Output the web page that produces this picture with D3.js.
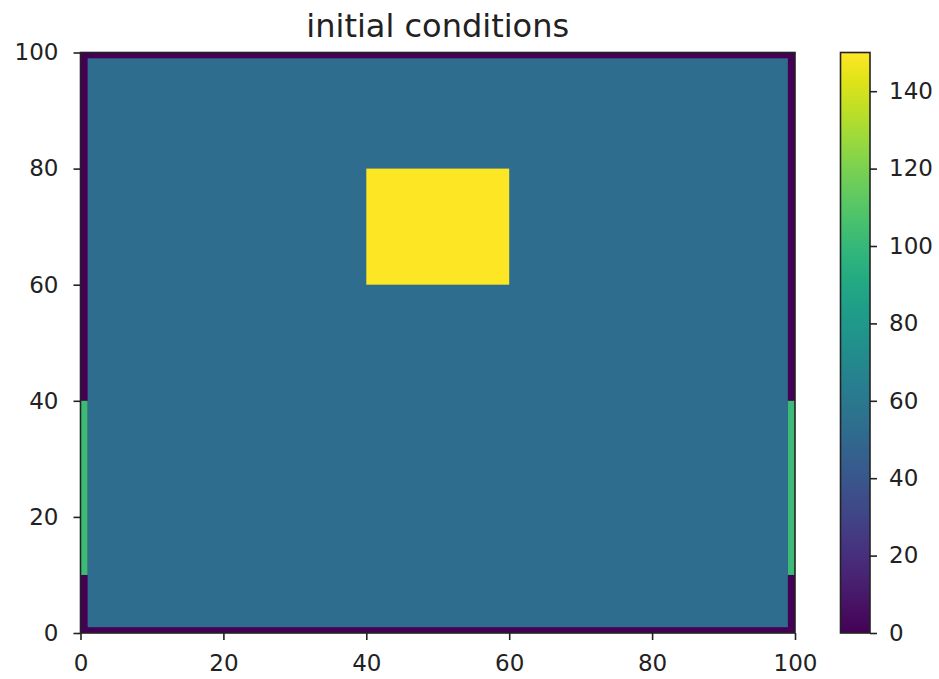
<!DOCTYPE html>
<html>
<head>
<meta charset="utf-8">
<style>
  body { margin: 0; background: #fff; }
  text { font-family: "DejaVu Sans", sans-serif; fill: #222; }
</style>
</head>
<body>
<div id="chart-area"></div>

<script src="https://cdn.jsdelivr.net/npm/d3@7"></script>
<script>
    // regions of the grid (data units), drawn in this order
    const regionName  = ["boundary", "interior", "left inflow", "right inflow", "hot block"];
    const regionX0    = [0,   1,  0, 99, 40];
    const regionX1    = [100, 99, 1, 100, 60];
    const regionY0    = [0,   1, 10, 10, 60];
    const regionY1    = [100, 99, 40, 40, 80];
    const regionValue = [0,  53, 102, 102, 150];

    const xTicks = [0, 20, 40, 60, 80, 100];
    const yTicks = [0, 20, 40, 60, 80, 100];
    const colorTicks = [0, 20, 40, 60, 80, 100, 120, 140];
    const colorDomain = [0, 150];

    const width = 939;
    const height = 679;
    const fontSize = 23;

    const svg = d3.select("#chart-area")
        .append("svg")
            .attr("width", width)
            .attr("height", height);

    const x = d3.scaleLinear().domain([0, 100]).range([80.5, 795]);
    const y = d3.scaleLinear().domain([0, 100]).range([633, 52.5]);
    const color = d3.scaleSequential(d3.interpolateViridis).domain(colorDomain);

    const regions = regionName.map((name, i) => ({
        name,
        x0: regionX0[i], x1: regionX1[i],
        y0: regionY0[i], y1: regionY1[i],
        value: regionValue[i]
    }));

    // heat map
    svg.append("g")
        .selectAll("rect")
        .data(regions)
        .join("rect")
            .attr("x", d => x(d.x0))
            .attr("y", d => y(d.y1))
            .attr("width", d => x(d.x1) - x(d.x0))
            .attr("height", d => y(d.y0) - y(d.y1))
            .attr("fill", d => color(d.value));

    // axes
    const xAxis = svg.append("g")
        .attr("transform", `translate(0, ${y(0)})`)
        .call(d3.axisBottom(x).tickValues(xTicks).tickSize(7).tickPadding(15));
    const yAxis = svg.append("g")
        .attr("transform", `translate(${x(0)}, 0)`)
        .call(d3.axisLeft(y).tickValues(yTicks).tickSize(7).tickPadding(15));

    [xAxis, yAxis].forEach(g => {
        g.select(".domain").remove();
        g.selectAll("line").attr("stroke", "#222").attr("stroke-width", 1.6);
        g.selectAll("text").attr("font-size", fontSize).attr("fill", "#262626")
            .style("font-family", "'DejaVu Sans', sans-serif");
    });

    // frame of the axes
    svg.append("rect")
        .attr("x", x(0))
        .attr("y", y(100))
        .attr("width", x(100) - x(0))
        .attr("height", y(0) - y(100))
        .attr("fill", "none")
        .attr("stroke", "#222")
        .attr("stroke-width", 1.6);

    // title
    svg.append("text")
        .attr("x", (x(0) + x(100)) / 2)
        .attr("y", 37)
        .attr("text-anchor", "middle")
        .attr("font-size", 32)
        .attr("fill", "#262626")
        .text("initial conditions");

    // colorbar
    const cbX = 840.5, cbW = 29.5;
    const cy = d3.scaleLinear().domain(colorDomain).range([633, 52.5]);

    const grad = svg.append("defs").append("linearGradient")
        .attr("id", "viridis")
        .attr("x1", 0).attr("y1", 1)
        .attr("x2", 0).attr("y2", 0);
    grad.selectAll("stop")
        .data(d3.range(0, 1.0001, 0.05))
        .join("stop")
            .attr("offset", t => t)
            .attr("stop-color", t => d3.interpolateViridis(t));

    svg.append("rect")
        .attr("x", cbX)
        .attr("y", cy(150))
        .attr("width", cbW)
        .attr("height", cy(0) - cy(150))
        .attr("fill", "url(#viridis)")
        .attr("stroke", "#222")
        .attr("stroke-width", 1.6);

    const cAxis = svg.append("g")
        .attr("transform", `translate(${cbX + cbW}, 0)`)
        .call(d3.axisRight(cy).tickValues(colorTicks).tickSize(7).tickPadding(12));
    cAxis.select(".domain").remove();
    cAxis.selectAll("line").attr("stroke", "#222").attr("stroke-width", 1.6);
    cAxis.selectAll("text").attr("font-size", fontSize).attr("fill", "#262626")
        .style("font-family", "'DejaVu Sans', sans-serif");
</script>
</body>
</html>
